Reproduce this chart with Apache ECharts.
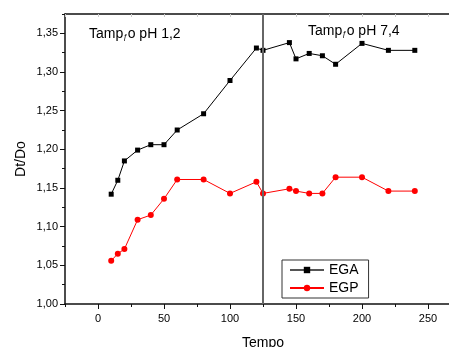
<!DOCTYPE html>
<html>
<head>
<meta charset="utf-8">
<script src="https://cdn.jsdelivr.net/npm/echarts@6/dist/echarts.min.js"></script>
<style>
  html, body { margin: 0; padding: 0; background: #fff; }
  #chart { width: 449px; height: 347px; }
</style>
</head>
<body>
<div id="chart"></div>
<script>
const tempo = [10, 15, 20, 30, 40, 50, 60, 80, 100, 120, 125, 145, 150, 160, 170, 180, 200, 220, 240];
const ega = [1.142, 1.160, 1.185, 1.199, 1.206, 1.206, 1.225, 1.246, 1.289, 1.331, 1.328, 1.338, 1.317, 1.324, 1.321, 1.310, 1.337, 1.328, 1.328];
const egp = [1.056, 1.065, 1.071, 1.109, 1.115, 1.136, 1.161, 1.161, 1.143, 1.158, 1.143, 1.149, 1.146, 1.143, 1.143, 1.164, 1.164, 1.146, 1.146];
const xMajor = [0, 50, 100, 150, 200, 250];
const xMinor = [-25, 25, 75, 125, 175, 225, 275];
const yMajor = [1.00, 1.05, 1.10, 1.15, 1.20, 1.25, 1.30, 1.35];
const yMinor = [1.025, 1.075, 1.125, 1.175, 1.225, 1.275, 1.325, 1.375];
const splitAt = 125;

const font = "Liberation Sans, Arial, sans-serif";
const pair = (xs, ys) => xs.map((x, i) => [x, ys[i]]);
const comma = (v) => v.toFixed(2).replace(".", ",");

const chart = echarts.init(document.getElementById("chart"));

const option = {
    animation: false,
    textStyle: { fontFamily: font },
    grid: { left: 65, top: 14, bottom: 43, right: -12, outerBoundsMode: "none" },
    legend: {
        data: [
            { name: "EGA", lineStyle: { color: "#555" } },
            { name: "EGP" },
        ],
        orient: "vertical",
        left: 282,
        top: 260,
        itemWidth: 34,
        itemHeight: 8,
        itemGap: 4,
        padding: [3, 10, 3, 7],
        borderColor: "#333",
        borderWidth: 1,
        backgroundColor: "#fff",
        textStyle: { fontSize: 14, color: "#000", fontFamily: font },
    },
    xAxis: [
        {
            type: "value",
            min: -25,
            max: 275,
            name: "Tempo",
            nameLocation: "middle",
            nameGap: 32,
            nameTextStyle: { fontSize: 14, color: "#000", fontFamily: font },
            splitLine: { show: false },
            axisLine: { onZero: false, lineStyle: { color: "#111", width: 1.5 } },
            axisTick: { customValues: xMajor, length: 5, lineStyle: { color: "#111" } },
            axisLabel: { customValues: xMajor, fontSize: 11, color: "#000", margin: 9 },
        },
        {
            type: "value",
            min: -25,
            max: 275,
            position: "bottom",
            splitLine: { show: false },
            axisLine: { show: false, onZero: false },
            axisTick: { customValues: xMinor, length: 3, lineStyle: { color: "#111" } },
            axisLabel: { show: false },
        },
        {
            type: "value",
            min: -25,
            max: 275,
            position: "top",
            splitLine: { show: false },
            axisLine: { onZero: false, lineStyle: { color: "#111", width: 1.5 } },
            axisTick: { inside: true, customValues: xMajor.concat(xMinor), length: 3, lineStyle: { color: "#ccc" } },
            axisLabel: { show: false },
        },
    ],
    yAxis: [
        {
            type: "value",
            min: 1.0,
            max: 1.375,
            name: "Dt/Do",
            nameLocation: "middle",
            nameGap: 37,
            nameMoveOverlap: false,
            nameTextStyle: { fontSize: 14, color: "#000", fontFamily: font },
            splitLine: { show: false },
            axisLine: { onZero: false, lineStyle: { color: "#111", width: 1.5 } },
            axisTick: { customValues: yMajor, length: 5, lineStyle: { color: "#111" } },
            axisLabel: { customValues: yMajor, fontSize: 11, color: "#000", margin: 7, formatter: comma },
        },
        {
            type: "value",
            min: 1.0,
            max: 1.375,
            position: "left",
            splitLine: { show: false },
            axisLine: { show: false, onZero: false },
            axisTick: { customValues: yMinor, length: 3, lineStyle: { color: "#111" } },
            axisLabel: { show: false },
        },
    ],
    series: [
        {
            name: "EGA",
            type: "line",
            data: pair(tempo, ega),
            symbol: "rect",
            symbolSize: 5,
            itemStyle: { color: "#000" },
            lineStyle: { color: "#000", width: 1 },
            markLine: {
                silent: true,
                symbol: ["none", "none"],
                label: { show: false },
                lineStyle: { color: "#666", width: 2, type: "solid" },
                data: [{ xAxis: splitAt }],
            },
        },
        {
            name: "EGP",
            type: "line",
            data: pair(tempo, egp),
            symbol: "circle",
            symbolSize: 6,
            itemStyle: { color: "#ff0000" },
            lineStyle: { color: "#ff0000", width: 1 },
        },
    ],
    graphic: [
        {
            type: "text",
            left: 89,
            top: 27,
            style: {
                text: "{a|Tamp}{s|ƒ}{a|o pH 1,2}",
                rich: {
                    a: { fontSize: 14, fontFamily: font, fill: "#000" },
                    s: { fontSize: 8, fontFamily: font, fill: "#000", verticalAlign: "bottom" },
                },
            },
        },
        {
            type: "text",
            left: 308,
            top: 24,
            style: {
                text: "{a|Tamp}{s|ƒ}{a|o pH 7,4}",
                rich: {
                    a: { fontSize: 14, fontFamily: font, fill: "#000" },
                    s: { fontSize: 8, fontFamily: font, fill: "#000", verticalAlign: "bottom" },
                },
            },
        },
    ],
};

chart.setOption(option);
</script>
</body>
</html>
